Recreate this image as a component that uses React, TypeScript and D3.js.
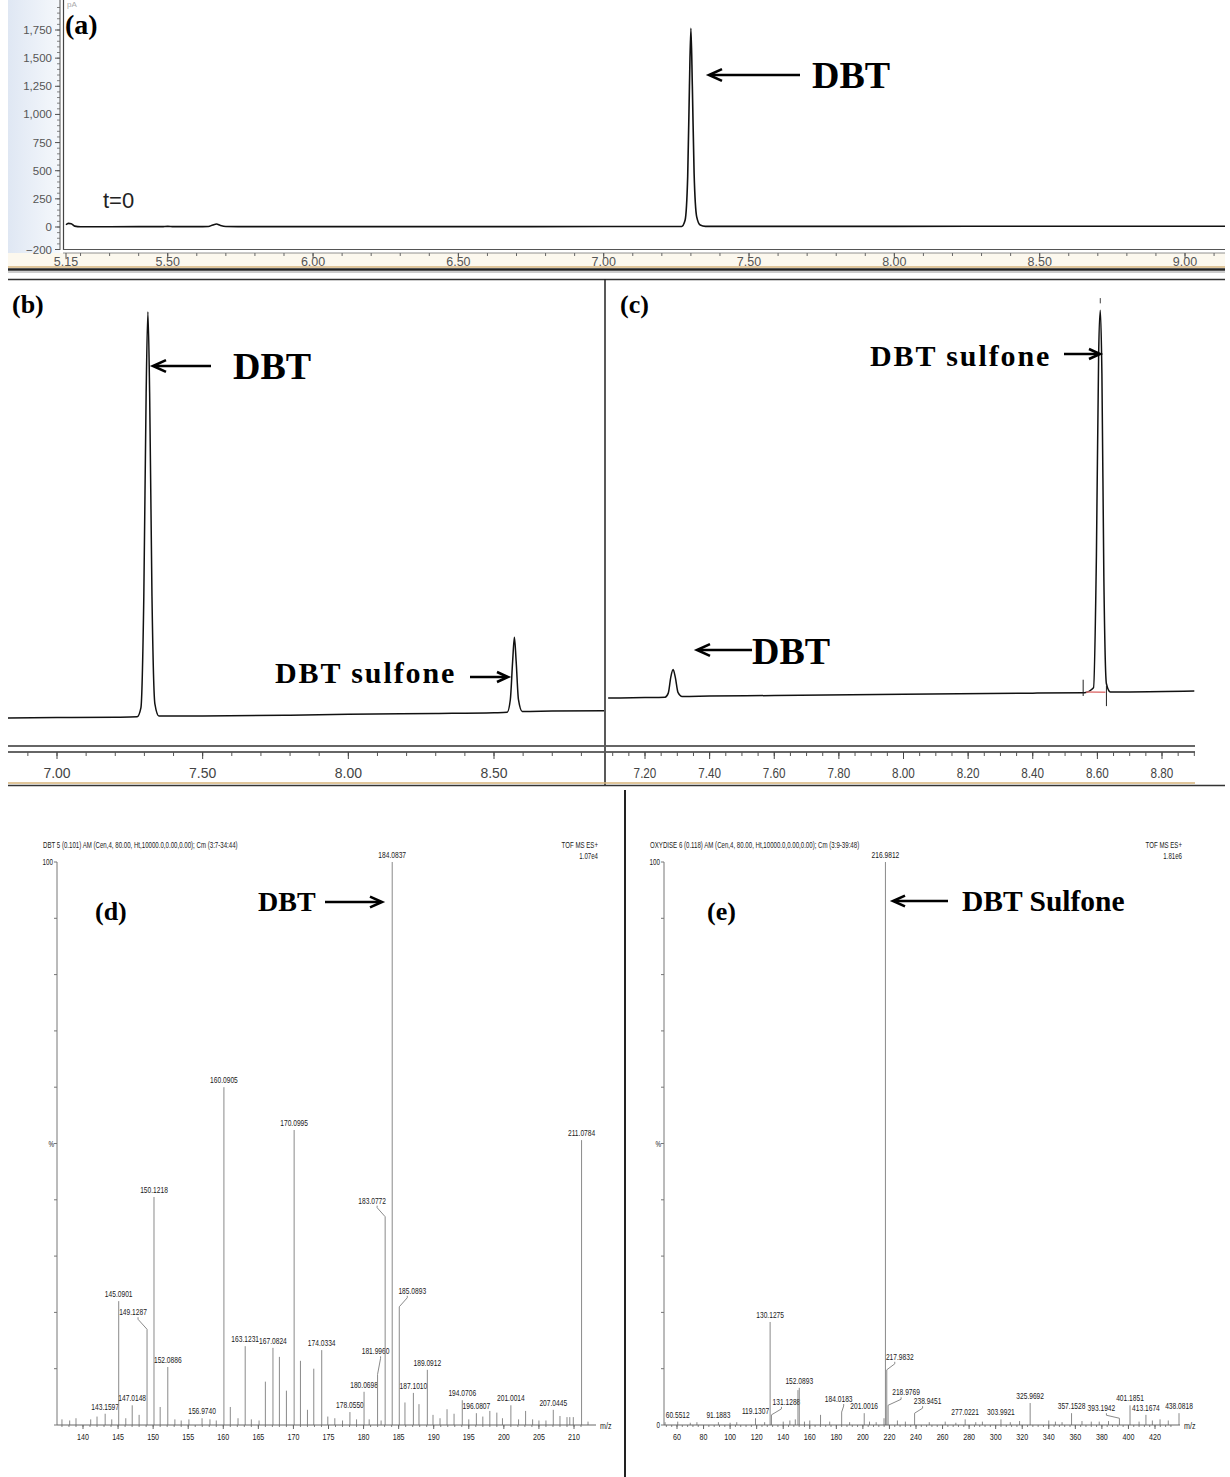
import React from "react";
import * as d3 from "d3";

// ================= DATA =================
// Panel (a): GC trace, t = 0 (time in min, signal in pA)
const aTime = [5.15, 5.158, 5.168, 5.18, 5.2, 5.3, 5.4, 5.48, 5.5, 5.52, 5.6, 5.64, 5.655, 5.668, 5.68, 5.7, 5.8, 6.0, 6.5, 7.0, 7.2, 7.268, 7.28, 7.289, 7.295, 7.3, 7.305, 7.311, 7.32, 7.332, 7.35, 7.5, 8.0, 8.5, 9.0, 9.14];
const aSignal = [20, 32, 28, 8, 2, 2, 3, 3, 6, 3, 3, 5, 18, 26, 15, 4, 3, 3, 3, 4, 4, 5, 60, 450, 1250, 1765, 1250, 480, 90, 18, 6, 6, 6, 7, 7, 7];
const aYTicks = [-200, 0, 250, 500, 750, 1000, 1250, 1500, 1750];
const aXTicks = [5.15, 5.5, 6.0, 6.5, 7.0, 7.5, 8.0, 8.5, 9.0];

// Panel (b): GC trace after reaction (relative units)
const bTime = [6.83, 7.0, 7.2, 7.275, 7.288, 7.298, 7.306, 7.312, 7.318, 7.326, 7.336, 7.35, 7.5, 7.8, 8.0, 8.3, 8.5, 8.545, 8.556, 8.564, 8.57, 8.576, 8.584, 8.597, 8.7, 8.88];
const bSignal = [0, 1, 2, 3, 25, 300, 800, 1000, 800, 300, 35, 5, 5, 7, 9, 11, 13, 14, 45, 140, 199, 140, 45, 16, 17, 18];
const bXTicks = [7.0, 7.5, 8.0, 8.5];

// Panel (c): GC trace, later time (relative units)
const cTime = [7.086, 7.2, 7.262, 7.272, 7.28, 7.287, 7.294, 7.302, 7.315, 7.4, 7.6, 8.0, 8.4, 8.56, 8.588, 8.597, 8.604, 8.609, 8.614, 8.62, 8.628, 8.64, 8.7, 8.9];
const cSignal = [0, 1, 2, 12, 52, 70, 50, 14, 4, 5, 6, 9, 12, 13, 25, 350, 850, 955, 800, 300, 35, 15, 15, 17];
const cXTicks = [7.2, 7.4, 7.6, 7.8, 8.0, 8.2, 8.4, 8.6, 8.8];

// Panel (d): MS of DBT (m/z, relative intensity %)
const dLabelMz = ["143.1597", "145.0901", "147.0148", "149.1287", "150.1218", "152.0886", "156.9740", "160.0905", "163.1231", "167.0824", "170.0995", "174.0334", "178.0550", "180.0698", "181.9960", "183.0772", "184.0837", "185.0893", "187.1010", "189.0912", "194.0706", "196.0807", "201.0014", "207.0445", "211.0784"];
const dLabelInt = [2.0, 22.0, 3.5, 17.0, 40.5, 10.3, 1.2, 60.0, 14.0, 13.7, 52.4, 13.3, 2.3, 5.9, 9.0, 37.0, 100, 21.0, 5.7, 9.8, 4.4, 2.1, 3.5, 2.7, 50.6];
const dMinorMz = [137.0, 138.1, 139.0, 141.1, 142.0, 144.1, 146.1, 148.0, 151.0, 153.1, 154.0, 155.1, 158.1, 159.0, 161.0, 162.1, 164.0, 165.1, 166.0, 168.0, 169.0, 171.0, 172.0, 172.9, 174.9, 175.9, 177.0, 179.0, 180.8, 182.5, 185.9, 187.9, 189.9, 190.9, 191.9, 192.9, 195.0, 197.0, 198.0, 199.0, 199.8, 202.1, 203.1, 204.1, 205.0, 206.0, 208.0, 209.0, 209.4, 209.9, 212.0];
const dMinorInt = [1.0, 0.8, 1.2, 1.0, 1.5, 1.0, 1.2, 1.8, 3.2, 1.0, 0.8, 1.0, 1.0, 0.8, 3.2, 1.2, 1.0, 0.8, 7.7, 12.1, 6.1, 11.4, 2.7, 10.0, 1.5, 1.2, 0.8, 1.0, 1.0, 0.8, 4.0, 3.7, 1.8, 1.2, 2.8, 2.0, 1.0, 1.5, 2.5, 2.2, 1.2, 1.0, 2.5, 1.0, 0.8, 0.8, 1.6, 1.4, 1.4, 1.4, 0.6];
const dXTicks = [140, 145, 150, 155, 160, 165, 170, 175, 180, 185, 190, 195, 200, 205, 210];

// Panel (e): MS of DBT sulfone
const eLabelMz = ["60.5512", "91.1883", "119.1307", "130.1275", "131.1288", "152.0893", "184.0183", "201.0016", "216.9812", "217.9832", "218.9769", "238.9451", "277.0221", "303.9921", "325.9692", "357.1528", "393.1942", "401.1851", "413.1674", "438.0818"];
const eLabelInt = [0.6, 0.5, 1.2, 18.3, 1.8, 6.6, 2.3, 2.1, 100, 9.8, 3.5, 2.1, 1.0, 1.0, 3.9, 2.1, 1.2, 3.5, 1.8, 2.1];
const eMinorMz = [51.0, 70, 75, 100, 105, 126, 140, 145, 149.1, 151.1, 156, 160, 168.1, 175, 190, 205, 210, 215.9, 226, 232, 250, 262, 270, 285, 290, 311, 318, 340, 345, 350, 365, 372, 378, 385, 408, 418, 423.8, 430];
const eMinorInt = [0.5, 0.4, 0.5, 0.4, 0.5, 0.5, 0.6, 0.8, 1.0, 6.2, 0.6, 0.8, 1.8, 0.6, 0.5, 0.6, 0.5, 1.2, 0.8, 0.6, 0.5, 0.6, 0.4, 0.5, 0.6, 0.5, 0.7, 0.8, 0.6, 0.5, 0.7, 0.6, 0.6, 0.7, 0.6, 0.8, 1.0, 0.8];
const eXTicks = [60, 80, 100, 120, 140, 160, 180, 200, 220, 240, 260, 280, 300, 320, 340, 360, 380, 400, 420];

// label displacement (styling only)
const dShift: Record<string, [number, number]> = { "149.1287": [-14, -10], "181.9960": [-2, -16], "183.0772": [-13, -9], "185.0893": [13, -9] };
const eShift: Record<string, [number, number]> = { "131.1288": [15, -6], "184.0183": [-3, -6], "217.9832": [13, -6], "218.9769": [18, -6], "238.9451": [13, -5], "393.1942": [-18, -3] };

// ================= HELPERS =================
const SERIF = "'Liberation Serif', 'Times New Roman', serif";
const SANS = "'Liberation Sans', Arial, sans-serif";

function Arrow({ x1, x2, y, w = 2.6, head = 13 }: { x1: number; x2: number; y: number; w?: number; head?: number }) {
  const dir = x2 > x1 ? 1 : -1;
  return (
    <g stroke="#000" strokeWidth={w} fill="none">
      <line x1={x1} y1={y} x2={x2 - dir} y2={y} />
      <path d={`M${x2 - dir * head},${y - head * 0.45} L${x2},${y} L${x2 - dir * head},${y + head * 0.45}`} strokeLinejoin="miter" />
    </g>
  );
}

function CText({ x, y, children, anchor = "middle", size = 9.5, sx = 0.7, fill = "#1a1a1a" }: any) {
  return (
    <text transform={`translate(${x},${y}) scale(${sx},1)`} textAnchor={anchor} fontSize={size} fontFamily={SANS} fill={fill}>
      {children}
    </text>
  );
}

function traceLine(t: number[], s: number[], x: any, y: any) {
  const idx = d3.range(t.length);
  return d3
    .line<number>()
    .x((i) => x(t[i]))
    .y((i) => y(s[i]))
    .curve(d3.curveMonotoneX)(idx) as string;
}

function MSPanel(props: any) {
  const { x, y, axisX0, axisX1, labelMz, labelInt, minorMz, minorInt, ticks, minorStep, shifts, header, scaleText, showZero } = props;
  const base = y(0);
  const minorTicks = d3.range(Math.ceil(x.invert(axisX0) / minorStep) * minorStep, x.invert(axisX1 - 8), minorStep);
  return (
    <g>
      <CText x={axisX0 - 14} y={848} anchor="start" size={9} sx={0.68}>{header}</CText>
      <CText x={axisX1 + 2} y={848} anchor="end" size={9} sx={0.68}>TOF MS ES+</CText>
      <CText x={axisX1 + 2} y={859} anchor="end" size={9} sx={0.68}>{scaleText}</CText>
      {/* y axis */}
      <line x1={axisX0} y1={y(100)} x2={axisX0} y2={base} stroke="#777" strokeWidth={1} />
      {d3.range(0, 101, 10).map((v) => (
        <line key={v} x1={axisX0 - 3} x2={axisX0} y1={y(v)} y2={y(v)} stroke="#777" strokeWidth={1} />
      ))}
      <CText x={axisX0 - 4} y={y(100) + 3} anchor="end" size={9}>100</CText>
      <CText x={axisX0 - 3} y={y(50) + 3} anchor="end" size={9}>%</CText>
      {showZero && <CText x={axisX0 - 4} y={base + 3} anchor="end" size={9}>0</CText>}
      {/* minor peaks */}
      {minorMz.map((m: number, i: number) => (
        <line key={"m" + i} x1={x(m)} x2={x(m)} y1={base} y2={y(minorInt[i])} stroke="#8a8a8a" strokeWidth={1} />
      ))}
      {/* labelled peaks */}
      {labelMz.map((lab: string, i: number) => {
        const m = +lab;
        const px = x(m);
        const top = y(labelInt[i]);
        const sh = shifts[lab];
        const lx = sh ? px + sh[0] : px;
        const ly = top - 4 + (sh ? sh[1] : 0);
        return (
          <g key={lab}>
            <line x1={px} x2={px} y1={base} y2={top} stroke="#8a8a8a" strokeWidth={1} />
            {sh && (
              <polyline
                points={`${lx + (sh[0] < 0 ? 5 : -5)},${ly + 2} ${lx + (sh[0] < 0 ? 5 : -5)},${ly + 4} ${px},${top}`}
                fill="none"
                stroke="#8a8a8a"
                strokeWidth={1}
              />
            )}
            <CText x={lx} y={ly}>{lab}</CText>
          </g>
        );
      })}
      {/* x axis */}
      <line x1={axisX0} x2={axisX1} y1={base} y2={base} stroke="#666" strokeWidth={1} />
      {minorTicks.map((v: number, i: number) => (
        <line key={"t" + i} x1={x(v)} x2={x(v)} y1={base} y2={base + 2} stroke="#666" strokeWidth={0.8} />
      ))}
      {ticks.map((v: number) => (
        <g key={v}>
          <line x1={x(v)} x2={x(v)} y1={base} y2={base + 4} stroke="#666" strokeWidth={1} />
          <CText x={x(v)} y={base + 15} size={9.5} sx={0.75}>{String(v)}</CText>
        </g>
      ))}
      <CText x={axisX1 + 4} y={base + 4} anchor="start" size={9.5} sx={0.75}>m/z</CText>
    </g>
  );
}

// ================= APP =================
export default function App() {
  // Panel (a)
  const xA = d3.scaleLinear().domain([5.15, 9.0]).range([66, 1185]);
  const yA = d3.scaleLinear().domain([0, 1750]).range([227, 30]);
  const aMinorY = d3.range(-200, 2001, 50).filter((v) => yA(v) >= 2);
  const aMinorX = d3.range(5.2, 9.14, 0.1);

  // Panel (b)
  const xB = d3.scaleLinear().domain([7.0, 8.5]).range([57, 494]);
  const yB = d3.scaleLinear().domain([0, 1000]).range([718, 312]);
  const bMinorX = d3.range(6.9, 8.88, 0.1);

  // Panel (c)
  const xC = d3.scaleLinear().domain([7.2, 8.8]).range([645, 1162]);
  const yC = d3.scaleLinear().domain([0, 1000]).range([698, 292]);
  const cMinorX = d3.range(7.1, 8.9, 0.05);

  // MS
  const yMS = d3.scaleLinear().domain([0, 100]).range([1425, 862]);
  const xD = d3.scaleLinear().domain([140, 210]).range([83, 574]);
  const xE = d3.scaleLinear().domain([60, 420]).range([677, 1155]);

  return (
    <svg width={1230} height={1477} style={{ position: "absolute", left: 0, top: 0, background: "#fff" }}>
      <defs>
        <linearGradient id="blueg" x1="0" x2="1" y1="0" y2="0">
          <stop offset="0" stopColor="#dfe7f3" />
          <stop offset="1" stopColor="#f5f8fc" />
        </linearGradient>
        <clipPath id="clipA"><rect x={64} y={0} width={1161} height={249} /></clipPath>
        <clipPath id="clipB"><rect x={8} y={281} width={596} height={462} /></clipPath>
        <clipPath id="clipC"><rect x={607} y={281} width={588} height={462} /></clipPath>
      </defs>
      <rect x={0} y={0} width={1230} height={1477} fill="#fff" />

      {/* ---------------- Panel (a) ---------------- */}
      <rect x={8} y={0} width={52} height={256} fill="url(#blueg)" />
      <rect x={8} y={253} width={1217} height={13} fill="#fcf8ee" />
      <text x={67} y={7} fontSize={8} fontFamily={SANS} fill="#aaa">pA</text>
      <line x1={60} x2={60} y1={0} y2={250} stroke="#555" strokeWidth={1} />
      <line x1={63.5} x2={63.5} y1={0} y2={250} stroke="#444" strokeWidth={1.2} />
      {aMinorY.map((v) => (
        <line key={v} x1={57} x2={60} y1={yA(v)} y2={yA(v)} stroke="#666" strokeWidth={0.8} />
      ))}
      {aYTicks.map((v) => (
        <g key={v}>
          <line x1={55} x2={60} y1={yA(v)} y2={yA(v)} stroke="#555" strokeWidth={1} />
          <text x={52} y={yA(v) + 4} textAnchor="end" fontSize={11.5} fontFamily={SANS} fill="#555">
            {d3.format(",")(v)}
          </text>
        </g>
      ))}
      <line x1={63} x2={1225} y1={249.5} y2={249.5} stroke="#555" strokeWidth={1.2} />
      <line x1={63} x2={1225} y1={253} y2={253} stroke="#777" strokeWidth={0.8} />
      {aMinorX.map((v, i) => (
        <line key={i} x1={xA(v)} x2={xA(v)} y1={253} y2={256} stroke="#666" strokeWidth={1} />
      ))}
      {aXTicks.map((v) => (
        <g key={v}>
          <line x1={xA(v)} x2={xA(v)} y1={253} y2={258} stroke="#555" strokeWidth={1} />
          <text x={xA(v)} y={266} textAnchor="middle" fontSize={12.5} fontFamily={SANS} fill="#555">
            {d3.format(".2f")(v)}
          </text>
        </g>
      ))}
      <line x1={8} x2={1225} y1={267} y2={267} stroke="#d6b37a" strokeWidth={1.5} />
      <line x1={8} x2={1225} y1={269.5} y2={269.5} stroke="#222" strokeWidth={2.5} />
      <line x1={8} x2={1225} y1={272} y2={272} stroke="#bbb" strokeWidth={1.5} />
      <path d={traceLine(aTime, aSignal, xA, yA)} fill="none" stroke="#111" strokeWidth={1.6} clipPath="url(#clipA)" />
      <text x={65} y={34} fontSize={28} fontWeight="bold" fontFamily={SERIF}>(a)</text>
      <text x={103} y={208} fontSize={22} fontFamily={SANS} fill="#222">t=0</text>
      <Arrow x1={800} x2={709} y={75} />
      <text x={812} y={88} fontSize={38} fontWeight="bold" fontFamily={SERIF}>DBT</text>

      {/* ---------------- Panels (b), (c) frame ---------------- */}
      <line x1={8} x2={1225} y1={279.5} y2={279.5} stroke="#333" strokeWidth={1.5} />
      <line x1={605} x2={605} y1={279} y2={786} stroke="#222" strokeWidth={1.5} />

      {/* Panel (b) */}
      <path d={traceLine(bTime, bSignal, xB, yB)} fill="none" stroke="#111" strokeWidth={1.5} clipPath="url(#clipB)" />
      <line x1={8} x2={604} y1={746} y2={746} stroke="#333" strokeWidth={1.3} />
      <line x1={8} x2={604} y1={752} y2={752} stroke="#333" strokeWidth={1.3} />
      {bMinorX.map((v, i) => (
        <line key={i} x1={xB(v)} x2={xB(v)} y1={752} y2={756} stroke="#555" strokeWidth={1} />
      ))}
      {bXTicks.map((v) => (
        <g key={v}>
          <line x1={xB(v)} x2={xB(v)} y1={752} y2={759} stroke="#444" strokeWidth={1} />
          <text x={xB(v)} y={778} textAnchor="middle" fontSize={14} fontFamily={SANS} fill="#444">
            {d3.format(".2f")(v)}
          </text>
        </g>
      ))}
      <text x={12} y={313} fontSize={26} fontWeight="bold" fontFamily={SERIF}>(b)</text>
      <Arrow x1={211} x2={153} y={366} />
      <text x={233} y={379} fontSize={38} fontWeight="bold" fontFamily={SERIF}>DBT</text>
      <text x={275} y={683} fontSize={30} fontWeight="bold" fontFamily={SERIF} letterSpacing={1.9}>DBT sulfone</text>
      <Arrow x1={470} x2={508} y={677} head={11} />

      {/* Panel (c) */}
      <path d={traceLine(cTime, cSignal, xC, yC)} fill="none" stroke="#111" strokeWidth={1.5} clipPath="url(#clipC)" />
      <line x1={xC(8.556)} x2={xC(8.556)} y1={yC(45)} y2={yC(5)} stroke="#222" strokeWidth={1} />
      <line x1={xC(8.628)} x2={xC(8.628)} y1={yC(30)} y2={yC(-20)} stroke="#222" strokeWidth={1} />
      <line x1={xC(8.565)} x2={xC(8.625)} y1={yC(15)} y2={yC(14)} stroke="#e07a7a" strokeWidth={1.5} />
      <line x1={xC(8.609)} x2={xC(8.609)} y1={yC(972)} y2={yC(985)} stroke="#444" strokeWidth={1} />
      <line x1={606} x2={1195} y1={746} y2={746} stroke="#333" strokeWidth={1.3} />
      <line x1={606} x2={1195} y1={752} y2={752} stroke="#333" strokeWidth={1.3} />
      {cMinorX.map((v, i) => (
        <line key={i} x1={xC(v)} x2={xC(v)} y1={752} y2={756} stroke="#555" strokeWidth={1} />
      ))}
      {cXTicks.map((v) => (
        <g key={v}>
          <line x1={xC(v)} x2={xC(v)} y1={752} y2={759} stroke="#444" strokeWidth={1} />
          <text transform={`translate(${xC(v)},778) scale(0.78,1)`} textAnchor="middle" fontSize={15} fontFamily={SANS} fill="#444">
            {d3.format(".2f")(v)}
          </text>
        </g>
      ))}
      <text x={620} y={313} fontSize={26} fontWeight="bold" fontFamily={SERIF}>(c)</text>
      <text x={870} y={366} fontSize={30} fontWeight="bold" fontFamily={SERIF} letterSpacing={1.9}>DBT sulfone</text>
      <Arrow x1={1064} x2={1100} y={354} head={11} />
      <Arrow x1={752} x2={697} y={650} />
      <text x={752} y={664} fontSize={38} fontWeight="bold" fontFamily={SERIF}>DBT</text>

      {/* bottom band of (b)/(c) */}
      <line x1={8} x2={1195} y1={783} y2={783} stroke="#d6b37a" strokeWidth={1.5} />
      <line x1={8} x2={1225} y1={785.5} y2={785.5} stroke="#333" strokeWidth={1.5} />

      {/* divider (d)/(e) */}
      <line x1={625} x2={625} y1={790} y2={1477} stroke="#222" strokeWidth={2} />

      {/* ---------------- Panel (d) ---------------- */}
      <MSPanel
        x={xD}
        y={yMS}
        axisX0={57}
        axisX1={596}
        labelMz={dLabelMz}
        labelInt={dLabelInt}
        minorMz={dMinorMz}
        minorInt={dMinorInt}
        ticks={dXTicks}
        minorStep={1}
        shifts={dShift}
        header="DBT 5 (0.101) AM (Cen,4, 80.00, Ht,10000.0,0.00,0.00); Cm (3:7-34:44)"
        scaleText="1.07e4"
        showZero={false}
      />
      <text x={95} y={920} fontSize={26} fontWeight="bold" fontFamily={SERIF}>(d)</text>
      <text x={258} y={911} fontSize={28} fontWeight="bold" fontFamily={SERIF}>DBT</text>
      <Arrow x1={325} x2={382} y={902} head={12} />

      {/* ---------------- Panel (e) ---------------- */}
      <MSPanel
        x={xE}
        y={yMS}
        axisX0={664}
        axisX1={1180}
        labelMz={eLabelMz}
        labelInt={eLabelInt}
        minorMz={eMinorMz}
        minorInt={eMinorInt}
        ticks={eXTicks}
        minorStep={4}
        shifts={eShift}
        header="OXYDISE 6 (0.118) AM (Cen,4, 80.00, Ht,10000.0,0.00,0.00); Cm (3:9-39:48)"
        scaleText="1.81e6"
        showZero={true}
      />
      <text x={707} y={920} fontSize={26} fontWeight="bold" fontFamily={SERIF}>(e)</text>
      <Arrow x1={948} x2={893} y={901} head={12} />
      <text x={962} y={911} fontSize={29.5} fontWeight="bold" fontFamily={SERIF}>DBT Sulfone</text>
    </svg>
  );
}
